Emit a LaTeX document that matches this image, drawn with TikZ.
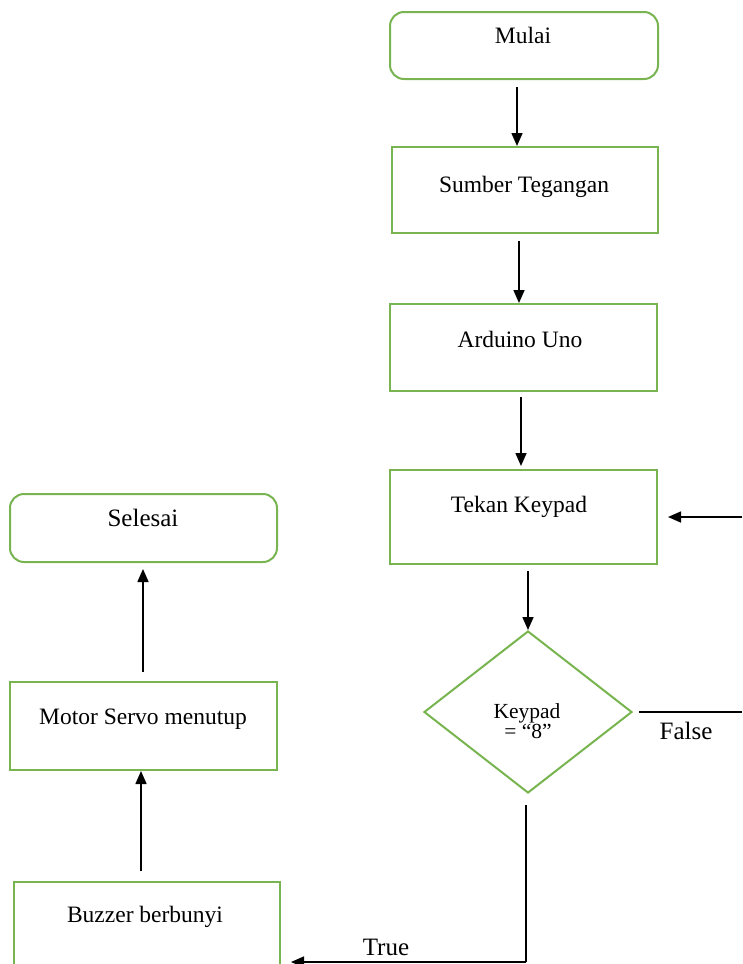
\documentclass[tikz,border=0pt]{standalone}
\usepackage{fontspec}
\setmainfont{Liberation Serif}
\usetikzlibrary{shapes.geometric,arrows.meta}
\definecolor{boxgreen}{RGB}{120,180,80}
\tikzset{
  procbox/.style={draw=boxgreen, line width=2pt, rectangle, inner sep=0pt},
  termbox/.style={procbox, rounded corners=14pt},
  decbox/.style={draw=boxgreen, line width=2pt, diamond, inner sep=0pt},
  txt/.style={inner sep=0pt, font=\fontsize{23.5}{25}\selectfont},
  bigtxt/.style={inner sep=0pt, font=\fontsize{25}{27}\selectfont},
  smalltxt/.style={inner sep=0pt, font=\fontsize{21.5}{23}\selectfont},
  conn/.style={draw=black, line width=1.6pt},
  arr/.style={conn, -{Triangle[length=13pt,width=11pt]}}
}
\begin{document}
\begin{tikzpicture}[x=1pt,y=-1pt]
\fill[white] (0,0) rectangle (742,964);
\useasboundingbox (0,0) rectangle (742,964);
\clip (0,0) rectangle (742,964);
% boxes
\node[termbox, minimum width=268pt, minimum height=67pt] (mulai) at (524,45.5) {};
\node[procbox, minimum width=266pt, minimum height=86pt] (sumber) at (525,190) {};
\node[procbox, minimum width=267pt, minimum height=87pt] (arduino) at (523.5,347.5) {};
\node[procbox, minimum width=267pt, minimum height=94pt] (tekan) at (523.5,517) {};
\node[decbox, minimum width=208pt, minimum height=162pt] (dec) at (528,712) {};
\node[termbox, minimum width=267pt, minimum height=68pt] (selesai) at (143.5,528) {};
\node[procbox, minimum width=267pt, minimum height=88pt] (motor) at (143.5,726) {};
\node[procbox, minimum width=266pt, minimum height=100pt] (buzzer) at (147,932) {};
% texts
\node[txt] (tmulai) at (523,35) {Mulai};
\node[txt] (tsumber) at (524,187) {Sumber Tegangan};
\node[txt] (tarduino) at (520,339) {Arduino Uno};
\node[txt] (ttekan) at (519,507) {Tekan Keypad};
\node[smalltxt] (tdec1) at (527,713) {Keypad};
\node[smalltxt] (tdec2) at (528,731) {= “8”};
\node[bigtxt] (tselesai) at (143,518) {Selesai};
\node[txt] (tmotor) at (143,719) {Motor Servo menutup};
\node[txt] (tbuzzer) at (145,917) {Buzzer berbunyi};
\node[bigtxt] (tfalse) at (686,731) {False};
\node[bigtxt] (ttrue) at (386,947) {True};
% connectors
\draw[arr, shorten <=7pt] (517,0 |- mulai.south) -- (517,0 |- sumber.north);
\draw[arr, shorten <=7pt] (519,0 |- sumber.south) -- (519,0 |- arduino.north);
\draw[arr, shorten <=5pt, shorten >=3pt] (521,0 |- arduino.south) -- (521,0 |- tekan.north);
\draw[arr, shorten <=6pt] (528,0 |- tekan.south) -- (dec.north);
\coordinate (fright) at (dec.east -| 742,0);
\coordinate (fbtop) at (742,517);
\draw[conn, shorten <=6pt] (dec.east) -- (fright);
\draw[arr, shorten >=10pt] (fbtop) -- (tekan.east);
\coordinate (tcorner) at (526,962);
\draw[conn, shorten <=11pt] (526,0 |- dec.south) -- (tcorner);
\draw[arr, shorten >=10pt] (tcorner) -- (tcorner -| buzzer.east);
\draw[arr, shorten <=10pt] (141,0 |- buzzer.north) -- (141,0 |- motor.south);
\draw[arr, shorten <=9pt, shorten >=6pt] (143,0 |- motor.north) -- (143,0 |- selesai.south);
\end{tikzpicture}
\end{document}
